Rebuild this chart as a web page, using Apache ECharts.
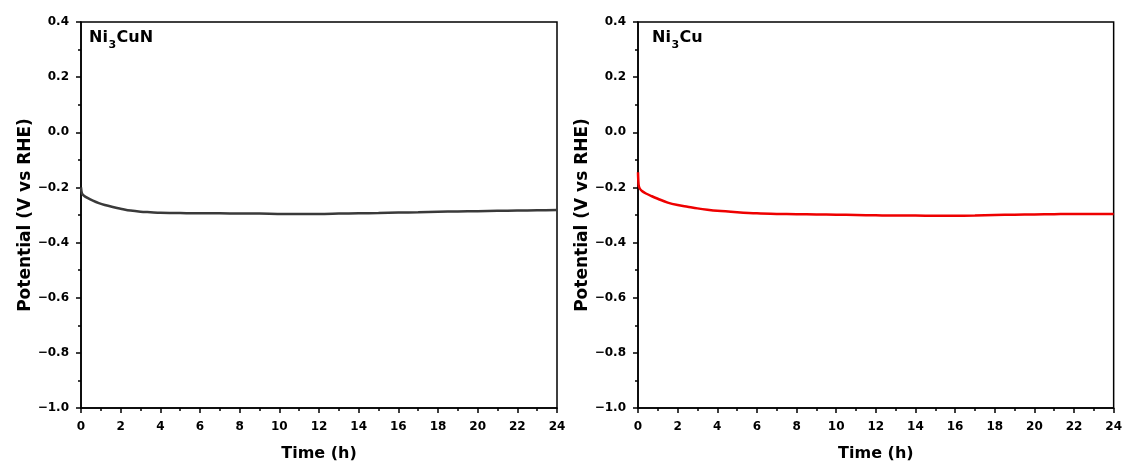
<!DOCTYPE html>
<html>
<head>
<meta charset="utf-8">
<script src="https://cdn.jsdelivr.net/npm/echarts@6/dist/echarts.min.js"></script>
<style>
  html, body { margin: 0; padding: 0; background: #fff; }
  #chart { width: 1125px; height: 472px; }
</style>
</head>
<body>
<div id="chart"></div>
<script>
// Chronopotentiometry over 24 h for the two catalysts
const timeNi3CuN = [0, 0.05, 0.15, 0.35, 0.6, 0.9, 1.2, 1.6, 2.0, 2.5, 3.0, 3.5, 4, 5, 6, 7, 8, 9, 10, 11, 12, 13, 14, 15, 16, 17, 18, 19, 20, 21, 22, 23, 24];
const potentialNi3CuN = [-0.200, -0.222, -0.230, -0.239, -0.248, -0.257, -0.264, -0.271, -0.277, -0.284, -0.288, -0.290, -0.292, -0.293, -0.294, -0.294, -0.295, -0.295, -0.296, -0.296, -0.296, -0.295, -0.294, -0.293, -0.291, -0.290, -0.288, -0.287, -0.286, -0.285, -0.284, -0.283, -0.282];

const timeNi3Cu = [0, 0.03, 0.08, 0.2, 0.4, 0.7, 1.0, 1.5, 2.0, 2.5, 3.0, 3.5, 4, 5, 6, 7, 8, 9, 10, 11, 12, 13, 14, 15, 16, 17, 18, 19, 20, 21, 22, 23, 24];
const potentialNi3Cu = [-0.145, -0.190, -0.203, -0.213, -0.222, -0.232, -0.241, -0.255, -0.264, -0.270, -0.276, -0.281, -0.285, -0.290, -0.294, -0.296, -0.297, -0.298, -0.299, -0.300, -0.301, -0.302, -0.302, -0.303, -0.303, -0.302, -0.300, -0.299, -0.298, -0.297, -0.296, -0.296, -0.296];

// Sample names split around the subscripted "3"
const labelNi3CuN = ['Ni', '3', 'CuN'];
const labelNi3Cu = ['Ni', '3', 'Cu'];

const xTitle = 'Time (h)';
const yTitle = 'Potential (V vs RHE)';

const FONT = '"DejaVu Sans", sans-serif';
const MAIN_SIZE = 16;
const SUB_SIZE = 11;

function pairs(xs, ys) {
  return xs.map((x, i) => [x, ys[i]]);
}

const measureCtx = document.createElement('canvas').getContext('2d');
function textWidth(text, size) {
  measureCtx.font = 'bold ' + size + 'px ' + FONT;
  return measureCtx.measureText(text).width;
}

// Chemical formula with a subscript, laid out as three text pieces
function formulaLabel(parts, x, y) {
  const [head, sub, tail] = parts;
  const w1 = textWidth(head, MAIN_SIZE);
  const w2 = textWidth(sub, SUB_SIZE);
  const base = { fontFamily: FONT, fontWeight: 'bold', fill: '#000', verticalAlign: 'top', align: 'left' };
  return {
    type: 'group', x, y,
    children: [
      { type: 'text', x: 0, y: 0, style: Object.assign({ text: head, fontSize: MAIN_SIZE }, base) },
      { type: 'text', x: w1 + 0.5, y: 9.5, style: Object.assign({ text: sub, fontSize: SUB_SIZE }, base) },
      { type: 'text', x: w1 + w2 + 1, y: 0, style: Object.assign({ text: tail, fontSize: MAIN_SIZE }, base) }
    ]
  };
}

function xAxisFor(gridIndex) {
  return {
    type: 'value', gridIndex, min: 0, max: 24, interval: 2,
    name: xTitle, nameLocation: 'middle', nameGap: 38,
    nameTextStyle: { fontFamily: FONT, fontWeight: 'bold', fontSize: 16, color: '#000' },
    axisLine: { show: true, onZero: false, lineStyle: { color: '#000', width: 1.5 } },
    axisTick: { show: true, inside: false, length: 5, lineStyle: { color: '#000', width: 1.5 } },
    minorTick: { show: true, splitNumber: 2, length: 3, lineStyle: { color: '#000', width: 1.5 } },
    axisLabel: { fontFamily: FONT, fontWeight: 'bold', fontSize: 12, color: '#000', margin: 13 },
    splitLine: { show: false }
  };
}

function yAxisFor(gridIndex) {
  return {
    type: 'value', gridIndex, min: -1.0, max: 0.4, interval: 0.2,
    name: yTitle, nameLocation: 'middle', nameGap: 47,
    nameTextStyle: { fontFamily: FONT, fontWeight: 'bold', fontSize: 17, color: '#000' },
    axisLine: { show: true, onZero: false, lineStyle: { color: '#000', width: 1.5 } },
    axisTick: { show: true, inside: false, length: 5, lineStyle: { color: '#000', width: 1.5 } },
    minorTick: { show: true, splitNumber: 2, length: 3, lineStyle: { color: '#000', width: 1.5 } },
    axisLabel: {
      fontFamily: FONT, fontWeight: 'bold', fontSize: 12, color: '#000', margin: 12,
      formatter: v => v.toFixed(1).replace('-', '\u2212')
    },
    splitLine: { show: false }
  };
}

const chart = echarts.init(document.getElementById('chart'), null, { renderer: 'canvas' });
chart.setOption({
  backgroundColor: '#fff',
  animation: false,
  graphic: [formulaLabel(labelNi3CuN, 89, 30), formulaLabel(labelNi3Cu, 652, 30)],
  grid: [
    { left: 81, top: 22, width: 476, height: 386, show: true, borderColor: '#000', borderWidth: 1.5, backgroundColor: 'transparent' },
    { left: 638, top: 22, width: 476, height: 386, show: true, borderColor: '#000', borderWidth: 1.5, backgroundColor: 'transparent' }
  ],
  xAxis: [xAxisFor(0), xAxisFor(1)],
  yAxis: [yAxisFor(0), yAxisFor(1)],
  series: [
    {
      name: 'Ni3CuN', type: 'line', xAxisIndex: 0, yAxisIndex: 0,
      data: pairs(timeNi3CuN, potentialNi3CuN),
      showSymbol: false, smooth: 0.3,
      lineStyle: { color: '#3a3a3a', width: 2.5 }
    },
    {
      name: 'Ni3Cu', type: 'line', xAxisIndex: 1, yAxisIndex: 1,
      data: pairs(timeNi3Cu, potentialNi3Cu),
      showSymbol: false, smooth: 0.3,
      lineStyle: { color: '#ee0000', width: 2.5 }
    }
  ]
});
</script>
</body>
</html>
